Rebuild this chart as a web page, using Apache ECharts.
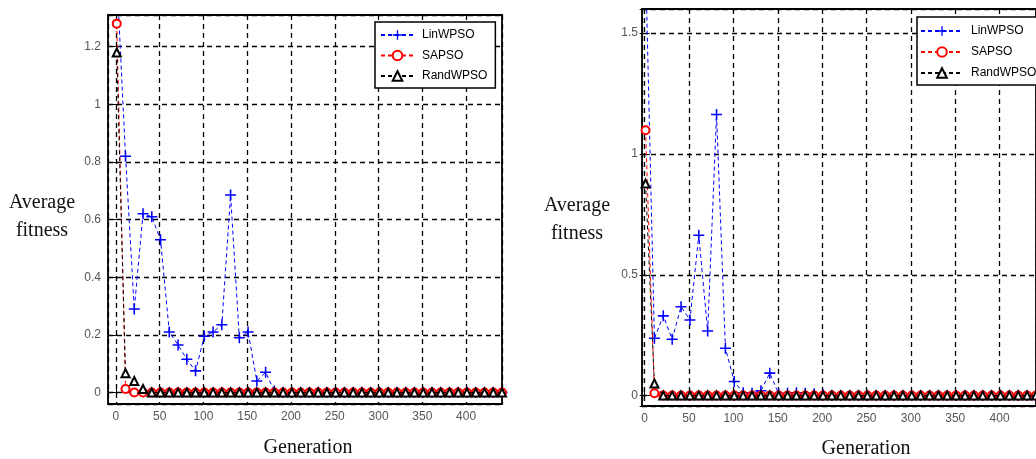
<!DOCTYPE html>
<html>
<head>
<meta charset="utf-8">
<script src="https://cdn.jsdelivr.net/npm/echarts@6/dist/echarts.min.js"></script>
<style>
html,body{margin:0;padding:0;background:#fff;}
#chart{width:1036px;height:459px;}
</style>
</head>
<body>
<div id="chart"></div>
<script>
// Generations where markers are plotted
const generations = [1,11,21,31,41,51,61,71,81,91,101,111,121,131,141,151,161,171,181,191,201,211,221,231,241,251,261,271,281,291,301,311,321,331,341,351,361,371,381,391,401,411,421,431,441];

const seriesNames = ['LinWPSO', 'SAPSO', 'RandWPSO'];

// Left panel
const leftLinWPSO = [1.45,0.82,0.29,0.62,0.61,0.53,0.21,0.165,0.115,0.075,0.195,0.21,0.235,0.685,0.19,0.21,0.04,0.07,0.005,0,0,0,0,0,0,0,0,0,0,0,0,0,0,0,0,0,0,0,0,0,0,0,0,0,0];
const leftSAPSO = [1.28,0.012,0,0,0,0,0,0,0,0,0,0,0,0,0,0,0,0,0,0,0,0,0,0,0,0,0,0,0,0,0,0,0,0,0,0,0,0,0,0,0,0,0,0,0];
const leftRandWPSO = [1.18,0.067,0.04,0.012,0,0,0,0,0,0,0,0,0,0,0,0,0,0,0,0,0,0,0,0,0,0,0,0,0,0,0,0,0,0,0,0,0,0,0,0,0,0,0,0,0];

// Right panel
const rightLinWPSO = [1.8,0.237,0.33,0.233,0.368,0.313,0.664,0.267,1.163,0.196,0.058,0.012,0.01,0.02,0.093,0.008,0.01,0.012,0.01,0.008,0.005,0,0,0,0,0,0,0,0,0,0,0,0,0,0,0,0,0,0,0,0,0,0,0,0];
const rightSAPSO = [1.098,0.01,0,0,0,0,0,0,0,0,0,0,0,0,0,0,0,0,0,0,0,0,0,0,0,0,0,0,0,0,0,0,0,0,0,0,0,0,0,0,0,0,0,0,0];
const rightRandWPSO = [0.878,0.05,0,0,0,0,0,0,0,0,0,0,0,0,0,0,0,0,0,0,0,0,0,0,0,0,0,0,0,0,0,0,0,0,0,0,0,0,0,0,0,0,0,0,0];

// tick counts giving steps of 50 (x), 0.2 (left y) and 0.5 (right y)
const xSplits = 9;
const leftYSplits = 7;
const rightYSplits = 3;

const colors = ['#0000ff', '#ff0000', '#000000'];
const plusPath = 'path://M-0.7,-5h1.4v10h-1.4zM-5,-0.7h10v1.4h-10z';
const symbols = [plusPath, 'emptyCircle', 'emptyTriangle'];
const symbolSizes = [11, 8, 8];

function pairs(vals){ return generations.map((g,i)=>[g, vals[i]]); }

const chart = echarts.init(document.getElementById('chart'));

const gridLine = {show:true, lineStyle:{color:'#000', type:[5,4], width:1.3}};
const labelStyle = {fontFamily:'Liberation Sans, Arial', fontSize:12, color:'#555'};

function xAxes(grid, min, max){
  return [
    {type:'value', gridIndex:grid, min:min, max:max, splitNumber:xSplits, position:'bottom',
     axisLine:{show:false}, axisTick:{show:true, inside:true, length:5, lineStyle:{color:'#000'}},
     axisLabel:Object.assign({margin:7, showMinLabel:false, showMaxLabel:false}, labelStyle),
     splitLine:gridLine},
    {type:'value', gridIndex:grid, min:min, max:max, splitNumber:xSplits, position:'top',
     axisLine:{show:false}, axisTick:{show:true, inside:true, length:5, lineStyle:{color:'#000'}},
     axisLabel:{show:false}, splitLine:{show:false}}
  ];
}
function yAxes(grid, min, max, splits, margin){
  return [
    {type:'value', gridIndex:grid, min:min, max:max, splitNumber:splits, position:'left',
     axisLine:{show:false}, axisTick:{show:true, inside:true, length:5, lineStyle:{color:'#000'}},
     axisLabel:Object.assign({margin:margin, showMinLabel:false, showMaxLabel:false}, labelStyle),
     splitLine:gridLine},
    {type:'value', gridIndex:grid, min:min, max:max, splitNumber:splits, position:'right',
     axisLine:{show:false}, axisTick:{show:true, inside:true, length:5, lineStyle:{color:'#000'}},
     axisLabel:{show:false}, splitLine:{show:false}}
  ];
}

const leftData = [leftLinWPSO, leftSAPSO, leftRandWPSO];
const rightData = [rightLinWPSO, rightSAPSO, rightRandWPSO];

const series = [];
[leftData, rightData].forEach((set, gi)=>{
  set.forEach((vals, i)=>{
    series.push({
      type:'line', name:seriesNames[i], xAxisIndex:gi*2, yAxisIndex:gi*2,
      data:pairs(vals), symbol:symbols[i], symbolSize:symbolSizes[i],
      showAllSymbol:true, clip:true, animation:false,
      lineStyle:{color:colors[i], width:1, type:[4,3]},
      itemStyle:{color:colors[i], borderWidth:1},
      z: 3 + i
    });
  });
});

function legend(left, top, padding, itemWidth, itemGap){
  return {
    show:true, orient:'vertical', left:left, top:top, padding:padding,
    itemWidth:itemWidth, itemHeight:12, itemGap:itemGap,
    backgroundColor:'#fff', borderColor:'#000', borderWidth:1.5,
    data:seriesNames,
    textStyle:{fontFamily:'Liberation Sans, Arial', fontSize:12, color:'#000', padding:[0,0,0,3]}
  };
}

const titleFont = {fontFamily:'Liberation Serif, Times New Roman, serif', fontSize:20, fill:'#111'};
function txt(text, x, y){
  return {type:'text', x:x, y:y, style:Object.assign({text:text, align:'center', verticalAlign:'middle'}, titleFont)};
}

chart.setOption({
  animation:false,
  backgroundColor:'#fff',
  grid:[
    {left:108, top:15, width:394, height:389, show:true, borderColor:'#000', borderWidth:1.8, backgroundColor:'transparent'},
    {left:642, top:9, width:401, height:397, show:true, borderColor:'#000', borderWidth:1.8, backgroundColor:'transparent'}
  ],
  xAxis:[].concat(xAxes(0, -9, 441), xAxes(1, -3, 441)),
  yAxis:[].concat(yAxes(0, -0.04, 1.31, leftYSplits, 7), yAxes(1, -0.043, 1.6, rightYSplits, 4)),
  legend:[
    legend(375, 22, [7,8,6,5], 33, 8.5),
    legend(917, 17, [8,8,6,3], 42, 9)
  ],
  series:series,
  graphic:[
    txt('Average', 42, 203), txt('fitness', 42, 231),
    txt('Average', 577, 206), txt('fitness', 577, 234),
    txt('Generation', 308, 448), txt('Generation', 866, 449)
  ]
});
</script>
</body>
</html>
